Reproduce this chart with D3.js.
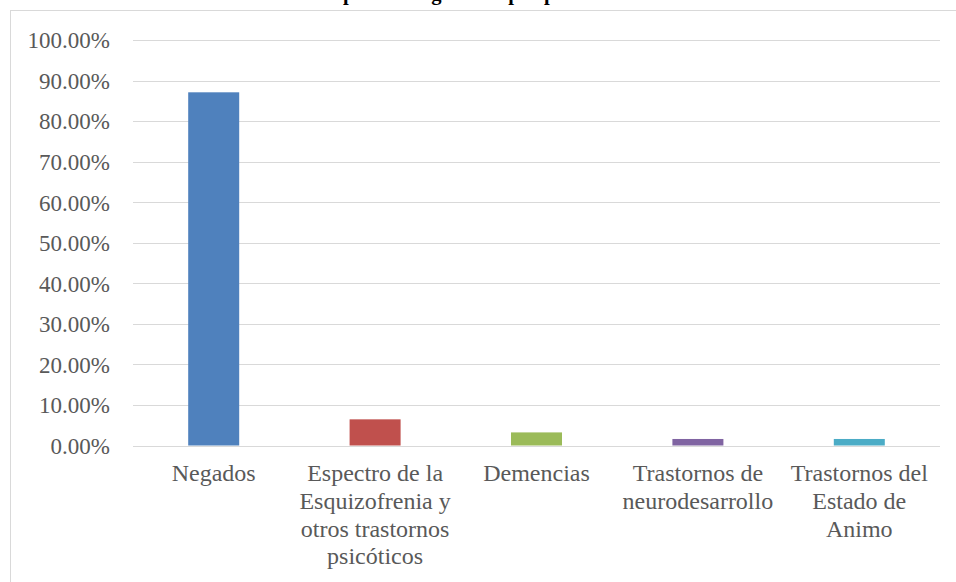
<!DOCTYPE html>
<html><head><meta charset="utf-8">
<script src="https://cdn.jsdelivr.net/npm/d3@7"></script>
<style>body{margin:0;background:#fff}svg{display:block}</style>
</head><body>
<script>
const categories = [
  ["Negados"],
  ["Espectro de la", "Esquizofrenia y", "otros trastornos", "psicóticos"],
  ["Demencias"],
  ["Trastornos de", "neurodesarrollo"],
  ["Trastornos del", "Estado de", "Animo"]
];
const values = [0.8710, 0.0645, 0.0323, 0.0161, 0.0161];
const colors = ["#4f81bd", "#c0504d", "#9bbb59", "#8064a2", "#4bacc6"];
const yTicks = [0, 0.1, 0.2, 0.3, 0.4, 0.5, 0.6, 0.7, 0.8, 0.9, 1.0];
const title = "Frecuencia de tipos de diagnóstico por paciente";

(function () {
const W = 956, H = 582;
const svg = d3.select("body").append("svg").attr("width", W).attr("height", H);
const font = "'Liberation Serif','Times New Roman',serif";

svg.append("rect").attr("x", 10.5).attr("y", 10.5).attr("width", 1000).attr("height", 700)
  .attr("fill", "#fff").attr("stroke", "#d9d9d9").attr("stroke-width", 1);

// title: only its descenders show at the top edge, as in the reference
const tt = svg.append("text").attr("x", 0).attr("y", -0.5)
  .attr("font-family", font).attr("font-weight", "bold").attr("font-size", 20.6)
  .attr("fill", "#000").text(title);
const pIdx = title.indexOf("p");
const off = tt.node().getStartPositionOfChar(pIdx).x;
tt.attr("x", 343 - off);

const pl = 133, pr = 940, pt = 40, pb = 445.5;
const x = d3.scaleBand().domain(d3.range(values.length)).range([pl, pr]).paddingInner(0.684).paddingOuter(0.342);
const y = d3.scaleLinear().domain([0, 1]).range([pb, pt]);

svg.append("g").selectAll("line").data(yTicks).join("line")
  .attr("x1", pl).attr("x2", pr)
  .attr("y1", d => Math.round(y(d)) + 0.5).attr("y2", d => Math.round(y(d)) + 0.5)
  .attr("stroke", "#d9d9d9").attr("stroke-width", 1);

const yAxis = d3.axisLeft(y).tickValues(yTicks).tickFormat(d => (d * 100).toFixed(2) + "%").tickSize(0).tickPadding(0);
const ya = svg.append("g").attr("transform", "translate(110,0)").call(yAxis);
ya.select(".domain").remove();
ya.selectAll("text").attr("font-family", font).attr("font-size", 23).attr("fill", "#595959").attr("dy", "0.34em");

svg.append("g").selectAll("rect").data(values).join("rect")
  .attr("x", (d, i) => x(i)).attr("width", x.bandwidth())
  .attr("y", d => y(d)).attr("height", d => y(0) - y(d))
  .attr("fill", (d, i) => colors[i]);

const cg = svg.append("g");
categories.forEach((lines, i) => {
  const t = cg.append("text").attr("text-anchor", "middle")
    .attr("font-family", font).attr("font-size", 24).attr("fill", "#595959");
  lines.forEach((ln, j) => {
    t.append("tspan").attr("x", x(i) + x.bandwidth() / 2).attr("y", 481 + j * 27.8).text(ln);
  });
});
})();
</script>
</body></html>
